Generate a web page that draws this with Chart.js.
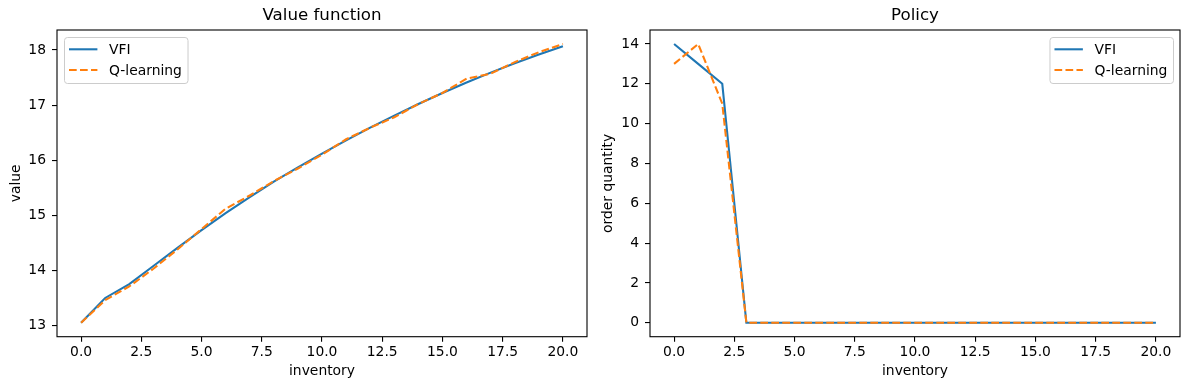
<!DOCTYPE html>
<html>
<head>
<meta charset="utf-8">
<script src="https://cdn.jsdelivr.net/npm/chart.js@4.4.1/dist/chart.umd.min.js"></script>
<style>
  html, body { margin: 0; padding: 0; background: #fff; }
  #wrap { position: relative; width: 1189px; height: 390px; overflow: hidden; }
  #valueChart { position: absolute; left: 0; top: 0; }
  #policyChart { position: absolute; left: 594px; top: 0; }
</style>
</head>
<body>
<div id="wrap">
  <canvas id="valueChart" width="600" height="390"></canvas>
  <canvas id="policyChart" width="595" height="390"></canvas>
</div>
<script>
const inventory = [0, 1, 2, 3, 4, 5, 6, 7, 8, 9, 10, 11, 12, 13, 14, 15, 16, 17, 18, 19, 20];

// value function
const vfiValue = [13.05, 13.50, 13.75, 14.08, 14.41, 14.73, 15.04, 15.33, 15.61, 15.87, 16.12,
                  16.36, 16.59, 16.81, 17.02, 17.22, 17.41, 17.59, 17.76, 17.92, 18.07];
const qValue   = [13.05, 13.46, 13.71, 14.03, 14.38, 14.75, 15.12, 15.36, 15.62, 15.85, 16.10,
                  16.38, 16.59, 16.78, 17.02, 17.22, 17.48, 17.57, 17.78, 17.96, 18.11];

// policy (order quantity)
const vfiPolicy = [14, 13, 12, 0, 0, 0, 0, 0, 0, 0, 0, 0, 0, 0, 0, 0, 0, 0, 0, 0, 0];
const qPolicy   = [13, 14, 11, 0, 0, 0, 0, 0, 0, 0, 0, 0, 0, 0, 0, 0, 0, 0, 0, 0, 0];

const xTicks = [0, 2.5, 5, 7.5, 10, 12.5, 15, 17.5, 20];
const valueTicks = [13, 14, 15, 16, 17, 18];
const policyTicks = [0, 2, 4, 6, 8, 10, 12, 14];

const FONT = '"DejaVu Sans", sans-serif';
const BLUE = '#1f77b4';
const ORANGE = '#ff7f0e';
const DASH = [7.7, 3.3];

function toPoints(ys) {
  return inventory.map((x, i) => ({ x: x, y: ys[i] }));
}

// axes box, title and the in-plot legend (matplotlib style)
const framePlugin = {
  id: 'frameLegend',
  afterDatasetsDraw(chart, args, opts) {
    const ctx = chart.ctx;
    const a = chart.chartArea;
    ctx.save();
    ctx.strokeStyle = '#000';
    ctx.lineWidth = 1.1;
    ctx.strokeRect(a.left, a.top, a.right - a.left, a.bottom - a.top);

    // title
    ctx.fillStyle = '#000';
    ctx.font = '16.67px ' + FONT;
    ctx.textAlign = 'center';
    ctx.textBaseline = 'middle';
    ctx.fillText(opts.title, (a.left + a.right) / 2, 16);

    // legend
    ctx.font = '13.89px ' + FONT;
    const sets = chart.data.datasets;
    let tw = 0;
    sets.forEach(ds => { tw = Math.max(tw, ctx.measureText(ds.label).width); });
    const w = 45 + tw + 5.6;
    const h = 46;
    const x = opts.side === 'left' ? a.left + 7 : a.right - 7 - w;
    const y = a.top + 7;
    ctx.beginPath();
    ctx.roundRect(x + 0.5, y + 0.5, w, h, 3);
    ctx.fillStyle = 'rgba(255,255,255,0.8)';
    ctx.fill();
    ctx.strokeStyle = '#cccccc';
    ctx.lineWidth = 1;
    ctx.stroke();

    sets.forEach((ds, i) => {
      const cy = y + 12.3 + i * 20.7;
      ctx.beginPath();
      ctx.setLineDash(ds.borderDash || []);
      ctx.strokeStyle = ds.borderColor;
      ctx.lineWidth = ds.borderWidth;
      ctx.moveTo(x + 5, cy);
      ctx.lineTo(x + 33.4, cy);
      ctx.stroke();
      ctx.setLineDash([]);
      ctx.fillStyle = '#000';
      ctx.textAlign = 'left';
      ctx.textBaseline = 'middle';
      ctx.fillText(ds.label, x + 45, cy + 1);
    });
    ctx.restore();
  }
};

function makeChart(canvasId, cfg) {
  return new Chart(document.getElementById(canvasId), {
    type: 'line',
    data: {
      datasets: [
        {
          label: 'VFI',
          data: toPoints(cfg.vfi),
          borderColor: BLUE,
          borderWidth: 2.08,
          pointRadius: 0,
          tension: 0,
          order: 1
        },
        {
          label: 'Q-learning',
          data: toPoints(cfg.q),
          borderColor: ORANGE,
          borderWidth: 2.08,
          borderDash: DASH,
          pointRadius: 0,
          tension: 0,
          order: 0
        }
      ]
    },
    options: {
      responsive: false,
      animation: false,
      layout: { padding: { left: 0, right: cfg.padRight, top: 30, bottom: 0 } },
      plugins: {
        legend: { display: false },
        tooltip: { enabled: false },
        title: { display: false },
        frameLegend: { title: cfg.title, side: cfg.legendSide }
      },
      scales: {
        x: {
          type: 'linear',
          min: -1,
          max: 21,
          afterBuildTicks: s => { s.ticks = xTicks.map(v => ({ value: v })); },
          afterFit: s => { s.height = 53.3; },
          ticks: {
            callback: v => v.toFixed(1),
            color: '#000',
            font: { family: FONT, size: 13.89 },
            padding: 2,
            maxRotation: 0,
            autoSkip: false
          },
          grid: { display: true, drawOnChartArea: false, drawTicks: true, tickLength: 5, color: '#000', lineWidth: 1.1 },
          border: { display: false },
          title: {
            display: true,
            text: 'inventory',
            color: '#000',
            font: { family: FONT, size: 13.89 },
            padding: { top: 0, bottom: 10 }
          }
        },
        y: {
          type: 'linear',
          min: cfg.yMin,
          max: cfg.yMax,
          afterBuildTicks: s => { s.ticks = cfg.yTicks.map(v => ({ value: v })); },
          afterFit: s => { s.width = cfg.yWidth; },
          ticks: {
            color: '#000',
            font: { family: FONT, size: 13.89 },
            padding: 6
          },
          grid: { display: true, drawOnChartArea: false, drawTicks: true, tickLength: 5, color: '#000', lineWidth: 1.1 },
          border: { display: false },
          title: {
            display: true,
            text: cfg.yLabel,
            color: '#000',
            font: { family: FONT, size: 13.89 },
            padding: { top: cfg.yTitlePad, bottom: 0 }
          }
        }
      }
    },
    plugins: [framePlugin]
  });
}

makeChart('valueChart', {
  title: 'Value function',
  vfi: vfiValue,
  q: qValue,
  yMin: 12.797,
  yMax: 18.363,
  yTicks: valueTicks,
  yLabel: 'value',
  yWidth: 57,
  yTitlePad: 7.7,
  padRight: 13,
  legendSide: 'left'
});

makeChart('policyChart', {
  title: 'Policy',
  vfi: vfiPolicy,
  q: qPolicy,
  yMin: -0.7,
  yMax: 14.7,
  yTicks: policyTicks,
  yLabel: 'order quantity',
  yWidth: 56,
  yTitlePad: 5.7,
  padRight: 9,
  legendSide: 'right'
});
</script>
</body>
</html>
